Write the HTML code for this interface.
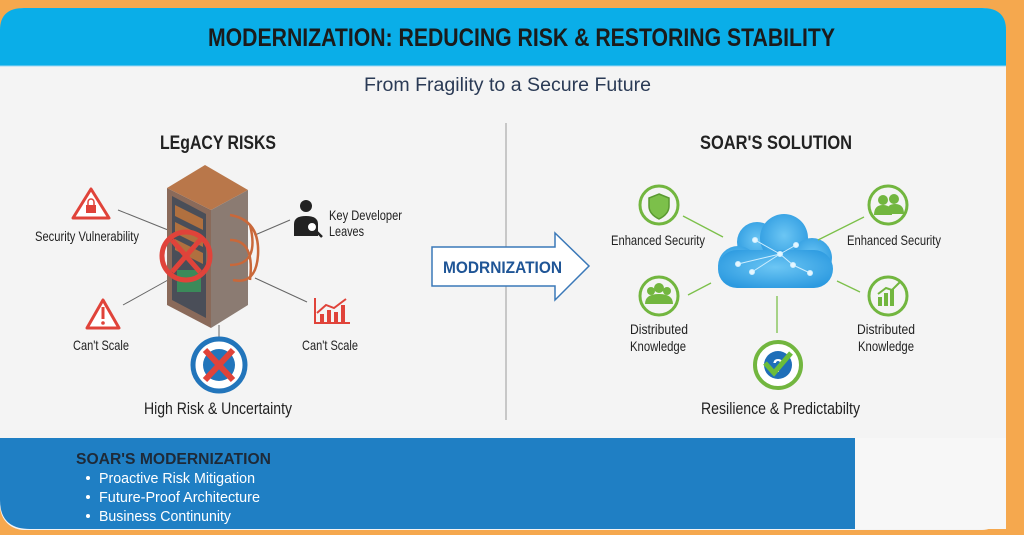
<!DOCTYPE html>
<html><head><meta charset="utf-8"><style>
html,body{margin:0;padding:0;width:1024px;height:535px;overflow:hidden;background:#f5a84e;}
svg{display:block}
text{font-family:"Liberation Sans",sans-serif;}
</style></head><body>
<svg width="1024" height="535" viewBox="0 0 1024 535" xmlns="http://www.w3.org/2000/svg">
<rect x="0" y="0" width="1024" height="535" fill="#f5a84e"/>
<rect x="0" y="8" width="1006" height="522" rx="24" fill="#f4f4f4"/>
<path d="M0 30 Q0 8 24 8 L982 8 Q1006 8 1006 30 L1006 66 L0 66 Z" fill="#0aaee8"/>
<line x1="0" y1="66" x2="1006" y2="66" stroke="#9fd8f3" stroke-width="1"/>
<text x="208" y="46" font-size="25" font-weight="bold" fill="#1b1b1b" textLength="627" lengthAdjust="spacingAndGlyphs">MODERNIZATION: REDUCING RISK &amp; RESTORING STABILITY</text>
<text x="364" y="91" font-size="19" fill="#2a3a55" textLength="287" lengthAdjust="spacingAndGlyphs">From Fragility to a Secure Future</text>
<line x1="506" y1="123" x2="506" y2="420" stroke="#b8b8b8" stroke-width="1.5"/>
<!-- bottom band -->
<path d="M0 438 L855 438 L855 529 L30 529 Q0 529 0 500 Z" fill="#1f7fc4"/>
<rect x="855" y="438" width="151" height="91" fill="#f7f7f7"/>
<text x="76" y="464" font-size="16" font-weight="bold" fill="#1e2a38" textLength="195" lengthAdjust="spacingAndGlyphs">SOAR'S MODERNIZATION</text>
<g font-size="15" fill="#ffffff">
<circle cx="88" cy="478" r="2" fill="#fff"/><text x="99" y="483" textLength="156" lengthAdjust="spacingAndGlyphs">Proactive Risk Mitigation</text>
<circle cx="88" cy="497" r="2" fill="#fff"/><text x="99" y="502" textLength="161" lengthAdjust="spacingAndGlyphs">Future-Proof Architecture</text>
<circle cx="88" cy="516" r="2" fill="#fff"/><text x="99" y="521" textLength="132" lengthAdjust="spacingAndGlyphs">Business Continunity</text>
</g>
<!-- left -->
<text x="160" y="149" font-size="19" font-weight="bold" fill="#222" textLength="116" lengthAdjust="spacingAndGlyphs">LEgACY RISKS</text>
<g stroke="#666" stroke-width="1">
<line x1="118" y1="210" x2="168" y2="230"/><line x1="123" y1="305" x2="168" y2="280"/>
<line x1="290" y1="220" x2="255" y2="235"/><line x1="307" y1="302" x2="255" y2="278"/>
<line x1="219" y1="325" x2="219" y2="338"/>
</g>
<!-- server -->
<polygon points="167,188 205,165 248,190 211,210" fill="#b9774a"/>
<polygon points="167,188 211,210 211,328 167,305" fill="#8a6a5a"/>
<polygon points="211,210 248,190 248,305 211,328" fill="#8b7b72"/>
<polygon points="172,196 206,214 206,318 172,300" fill="#4a4e58"/>
<g fill="#b0703f"><polygon points="175,205 203,219 203,230 175,216"/><polygon points="175,222 203,236 203,247 175,233"/><polygon points="175,239 203,253 203,264 175,250"/></g>
<rect x="177" y="270" width="24" height="22" fill="#3b8a5a"/>
<g fill="none" stroke="#c9683a" stroke-width="2.5"><path d="M230 215 q30 5 28 40 q-2 30 -25 25"/><path d="M230 240 q25 0 20 40"/><path d="M230 265 q30 0 20 -40"/></g>
<circle cx="186" cy="256" r="24" fill="none" stroke="#e0433a" stroke-width="5"/>
<line x1="172" y1="240" x2="200" y2="272" stroke="#e0433a" stroke-width="5"/><line x1="200" y1="240" x2="172" y2="272" stroke="#e0433a" stroke-width="5"/>
<!-- lock triangle -->
<polygon points="91,189 109,218 73,218" fill="#fff" stroke="#e0433a" stroke-width="3" stroke-linejoin="round"/>
<rect x="86" y="205" width="10" height="8" fill="#e0433a"/><path d="M88 205 v-3 a3 3 0 0 1 6 0 v3" fill="none" stroke="#e0433a" stroke-width="1.5"/>
<text x="35" y="241" font-size="14" fill="#222" textLength="104" lengthAdjust="spacingAndGlyphs">Security Vulnerability</text>
<polygon points="103,300 119,328 87,328" fill="#fff" stroke="#e0433a" stroke-width="3" stroke-linejoin="round"/>
<rect x="101.5" y="307" width="3" height="12" fill="#e0433a"/><circle cx="103" cy="323" r="1.8" fill="#e0433a"/>
<text x="73" y="350" font-size="14" fill="#222" textLength="56" lengthAdjust="spacingAndGlyphs">Can't Scale</text>
<!-- person -->
<circle cx="306" cy="206" r="6" fill="#222"/><path d="M294 236 v-12 q0 -8 12 -8 q12 0 12 8 v12 z" fill="#222"/>
<circle cx="312" cy="227" r="5" fill="#fff" stroke="#222" stroke-width="2"/><line x1="316" y1="231" x2="322" y2="237" stroke="#222" stroke-width="2.5"/>
<text x="329" y="220" font-size="14" fill="#222" textLength="73" lengthAdjust="spacingAndGlyphs">Key Developer</text>
<text x="329" y="236" font-size="14" fill="#222" textLength="35" lengthAdjust="spacingAndGlyphs">Leaves</text>
<!-- chart -->
<g fill="#e0433a"><rect x="314" y="298" width="2" height="26"/><rect x="314" y="322" width="36" height="2"/><rect x="320" y="314" width="4" height="8"/><rect x="327" y="310" width="4" height="12"/><rect x="334" y="312" width="4" height="10"/><rect x="341" y="305" width="4" height="17"/></g>
<polyline points="317,313 326,305 334,308 346,299" fill="none" stroke="#e0433a" stroke-width="2"/>
<text x="302" y="350" font-size="14" fill="#222" textLength="56" lengthAdjust="spacingAndGlyphs">Can't Scale</text>
<!-- high risk -->
<circle cx="219" cy="365" r="26" fill="#fff" stroke="#2275bb" stroke-width="5"/>
<circle cx="219" cy="365" r="16" fill="#2275bb"/>
<line x1="205" y1="350" x2="233" y2="380" stroke="#e0433a" stroke-width="6"/><line x1="233" y1="350" x2="205" y2="380" stroke="#e0433a" stroke-width="6"/>
<text x="144" y="414" font-size="17" fill="#222" textLength="148" lengthAdjust="spacingAndGlyphs">High Risk &amp; Uncertainty</text>
<!-- arrow -->
<polygon points="432,247 555,247 555,233 589,266 555,300 555,286 432,286" fill="#fff" stroke="#3a78b8" stroke-width="1.5"/>
<text x="443" y="273" font-size="17" font-weight="bold" fill="#1f5596" textLength="119" lengthAdjust="spacingAndGlyphs">MODRNIZATION</text>
<!-- right -->
<text x="700" y="149" font-size="19" font-weight="bold" fill="#222" textLength="152" lengthAdjust="spacingAndGlyphs">SOAR'S SOLUTION</text>
<defs><radialGradient id="cg" cx="50%" cy="45%" r="60%"><stop offset="0" stop-color="#6cc6f4"/><stop offset="1" stop-color="#2c9ae0"/></radialGradient></defs>
<g fill="url(#cg)">
<circle cx="757" cy="242" r="20"/><circle cx="784" cy="238" r="24"/><circle cx="812" cy="258" r="20"/><circle cx="738" cy="266" r="20"/>
<rect x="718" y="250" width="115" height="38" rx="19"/>
</g>
<g stroke="#cfeeff" stroke-width="1" fill="#e6f7ff">
<line x1="738" y1="264" x2="780" y2="254"/><line x1="780" y1="254" x2="752" y2="272"/><line x1="780" y1="254" x2="755" y2="240"/><line x1="780" y1="254" x2="796" y2="245"/><line x1="780" y1="254" x2="793" y2="265"/><line x1="793" y1="265" x2="810" y2="273"/>
<circle cx="738" cy="264" r="2.5"/><circle cx="755" cy="240" r="2.5"/><circle cx="780" cy="254" r="2.5"/><circle cx="796" cy="245" r="2.5"/><circle cx="793" cy="265" r="2.5"/><circle cx="752" cy="272" r="2.5"/><circle cx="810" cy="273" r="2.5"/>
</g>
<g stroke="#7cc04a" stroke-width="1.3">
<line x1="683" y1="216" x2="723" y2="237"/><line x1="864" y1="217" x2="818" y2="240"/>
<line x1="688" y1="295" x2="711" y2="283"/><line x1="860" y1="292" x2="837" y2="281"/>
<line x1="777" y1="333" x2="777" y2="296"/>
</g>
<g fill="none" stroke="#72b63f" stroke-width="3">
<circle cx="659" cy="205" r="19"/><circle cx="888" cy="205" r="19"/><circle cx="659" cy="296" r="19"/><circle cx="888" cy="296" r="19"/>
</g>
<path d="M659 194 l10 4 v8 q0 8 -10 13 q-10 -5 -10 -13 v-8 z" fill="#7cc04a" stroke="#5a9a30" stroke-width="1.5"/>
<g fill="#72b63f"><circle cx="883" cy="200" r="5"/><circle cx="894" cy="199" r="5"/><path d="M874 215 q0 -10 9 -10 q9 0 9 10z"/><path d="M886 214 q0 -10 9 -10 q9 0 9 10z"/>
<circle cx="651" cy="291" r="4"/><circle cx="659" cy="288" r="5"/><circle cx="667" cy="291" r="4"/><path d="M645 304 q0 -10 14 -10 q14 0 14 10z"/>
<rect x="878" y="297" width="4" height="9"/><rect x="884" y="293" width="4" height="13"/><rect x="890" y="289" width="4" height="17"/></g>
<polyline points="878,294 886,288 892,290 900,282" fill="none" stroke="#72b63f" stroke-width="2"/>
<text x="611" y="245" font-size="14" fill="#222" textLength="94" lengthAdjust="spacingAndGlyphs">Enhanced Security</text>
<text x="847" y="245" font-size="14" fill="#222" textLength="94" lengthAdjust="spacingAndGlyphs">Enhanced Security</text>
<text x="630" y="334" font-size="14" fill="#222" textLength="58" lengthAdjust="spacingAndGlyphs">Distributed</text>
<text x="630" y="351" font-size="14" fill="#222" textLength="56" lengthAdjust="spacingAndGlyphs">Knowledge</text>
<text x="857" y="334" font-size="14" fill="#222" textLength="58" lengthAdjust="spacingAndGlyphs">Distributed</text>
<text x="858" y="351" font-size="14" fill="#222" textLength="56" lengthAdjust="spacingAndGlyphs">Knowledge</text>
<circle cx="778" cy="365" r="23" fill="#fff" stroke="#72b63f" stroke-width="4"/>
<circle cx="778" cy="365" r="14" fill="#1f6fb8"/>
<text x="778" y="372" text-anchor="middle" font-size="18" font-weight="bold" fill="#fff">?</text>
<polyline points="765,363 774,373 791,353" fill="none" stroke="#6bbd3a" stroke-width="5"/>
<text x="701" y="414" font-size="17" fill="#222" textLength="159" lengthAdjust="spacingAndGlyphs">Resilience &amp; Predictabilty</text>
</svg>
</body></html>
